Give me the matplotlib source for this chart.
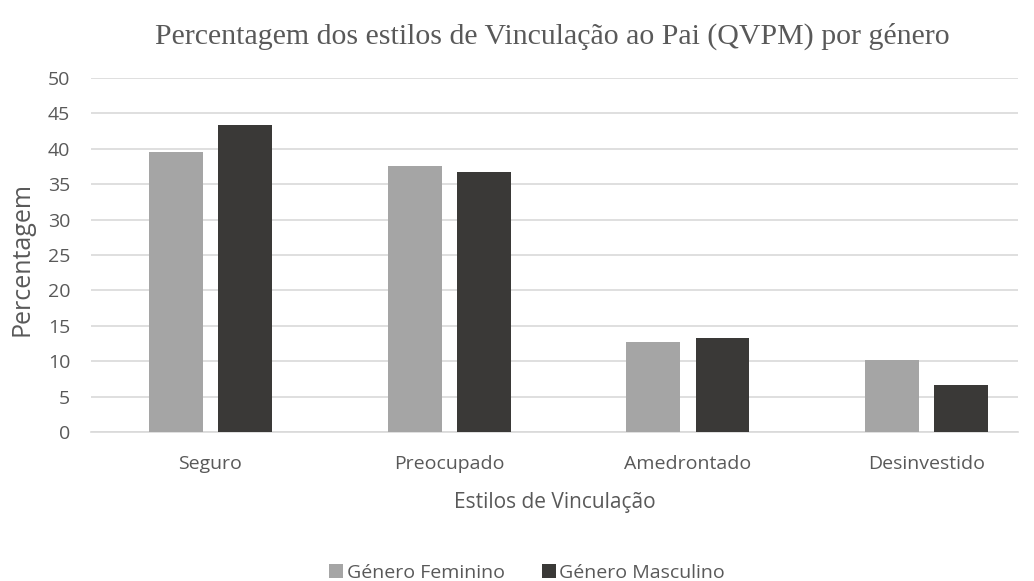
import matplotlib
matplotlib.use("Agg")
import matplotlib.pyplot as plt
import numpy as np

categories = ["Seguro", "Preocupado", "Amedrontado", "Desinvestido"]
feminino = [39.6, 37.6, 12.7, 10.1]
masculino = [43.3, 36.7, 13.3, 6.7]
series_names = ["Género Feminino", "Género Masculino"]
yticks = list(range(0, 55, 5))

plt.rcParams['font.family'] = ['Open Sans', 'DejaVu Sans']

fig = plt.figure(figsize=(10.34, 5.81), dpi=100)
ax = fig.add_axes([91/1034, 1-432/581, (1018-91)/1034, (432-78)/581])

x = np.arange(len(categories))
w = 0.226
off = 0.1445
b1 = ax.bar(x - off, feminino, w, color="#A5A5A5", label=series_names[0], zorder=3)
b2 = ax.bar(x + off, masculino, w, color="#3A3937", label=series_names[1], zorder=3)

ax.set_xlim(-0.5, 3.382)
ax.set_ylim(0, 50)
ax.set_yticks(yticks)
ax.set_xticks(x)
ax.set_xticklabels(categories)
ax.yaxis.grid(True, color="#D9D9D9", linewidth=1.2, zorder=0)
ax.set_axisbelow(True)
for s in ["top", "right", "left"]:
    ax.spines[s].set_visible(False)
ax.spines["bottom"].set_color("#D9D9D9")
ax.spines["bottom"].set_linewidth(1.2)
ax.tick_params(axis="both", length=0, labelsize=14, colors="#595959")
ax.tick_params(axis="y", pad=15)
ax.tick_params(axis="x", pad=16.5)

ax.set_ylabel("Percentagem", fontsize=18, color="#595959", va="center")
ax.yaxis.set_label_coords(-0.0745, 0.489)
ax.set_xlabel("Estilos de Vinculação", fontsize=15, color="#595959", labelpad=14)

fig.text(0.534, 1-36/581, "Percentagem dos estilos de Vinculação ao Pai (QVPM) por género",
         ha="center", va="center", fontsize=21.5, color="#595959", family="Liberation Serif")

fig.legend(handles=[b1, b2], labels=series_names, loc="center", bbox_to_anchor=(0.51, 1-573/581),
           ncol=2, frameon=False, fontsize=14, labelcolor="#595959", handlelength=0.7,
           handleheight=0.7, handletextpad=0.2, columnspacing=1.9)

fig.savefig("out.png", dpi=100)
